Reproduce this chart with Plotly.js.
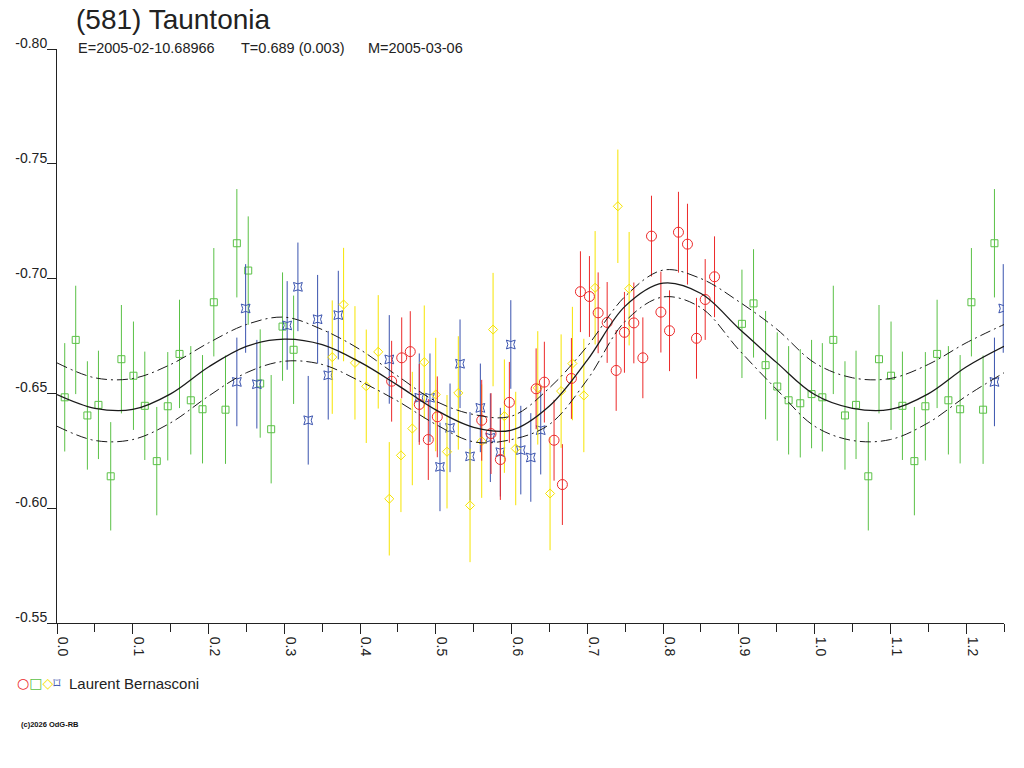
<!DOCTYPE html>
<html>
<head>
<meta charset="utf-8">
<script src="https://cdn.plot.ly/plotly-3.0.1.min.js"></script>
<style>
  body { margin: 0; background: #fff; }
  #plot { width: 1024px; height: 768px; }
</style>
</head>
<body>
<div id="plot"></div>
<script>
// lightcurve of (581) Tauntonia, phase vs reduced magnitude, one set per session

var redPhase = [0.4417, 0.4550, 0.4663, 0.4782, 0.4901, 0.5020, 0.5606, 0.5729, 0.5852, 0.5971,
  0.6324, 0.6433, 0.6561, 0.6671, 0.6790, 0.6909, 0.7028, 0.7143, 0.7262, 0.7381,
  0.7490, 0.7614, 0.7733, 0.7847, 0.7971, 0.8085, 0.8203, 0.8322, 0.8441, 0.8556, 0.8679];
var redMag = [-0.6553, -0.6655, -0.6682, -0.6452, -0.6299, -0.6398, -0.6383, -0.6325, -0.6212, -0.6461,
  -0.6520, -0.6549, -0.6296, -0.6103, -0.6565, -0.6943, -0.6922, -0.6851, -0.6809, -0.6600,
  -0.6766, -0.6807, -0.6655, -0.7185, -0.6854, -0.6773, -0.7202, -0.7150, -0.6740, -0.6909, -0.7008];
var redErr = 0.0176;

var greenPhase = [0.0102, 0.0247, 0.0401, 0.0547, 0.0709, 0.0850, 0.1009, 0.1159, 0.1317, 0.1462,
  0.1617, 0.1766, 0.1921, 0.2070, 0.2224, 0.2374, 0.2524, 0.2682, 0.2827, 0.2977, 0.3123,
  0.9041, 0.9194, 0.9353, 0.9507, 0.9657, 0.9811, 0.9960];
var greenMag = [-0.6483, -0.6733, -0.6404, -0.6450, -0.6139, -0.6649, -0.6577, -0.6446, -0.6205, -0.6444,
  -0.6672, -0.6470, -0.6431, -0.6897, -0.6429, -0.7154, -0.7035, -0.6543, -0.6344, -0.6791, -0.6690,
  -0.6803, -0.6892, -0.6623, -0.6530, -0.6470, -0.6457, -0.6497];
var greenErr = 0.0236;

var yellowPhase = [0.3633, 0.3783, 0.3933, 0.4082, 0.4240, 0.4386, 0.4540, 0.4690, 0.4848, 0.4999,
  0.5148, 0.5297, 0.5452, 0.5606, 0.5756, 0.5905, 0.6055, 0.6346, 0.6508, 0.6654,
  0.6803, 0.6954, 0.7103, 0.7403, 0.7552];
var yellowMag = [-0.6658, -0.6887, -0.6633, -0.6531, -0.6681, -0.6041, -0.6230, -0.6347, -0.6636, -0.6495,
  -0.6246, -0.6502, -0.6012, -0.6292, -0.6778, -0.6401, -0.6260, -0.6524, -0.6064, -0.6510,
  -0.6630, -0.6491, -0.6960, -0.7315, -0.6956];
var yellowErr = 0.0247;

var bluePhase = [0.2374, 0.2490, 0.2638, 0.3038, 0.3180, 0.3316, 0.3440, 0.3580, 0.3713, 0.4386,
  0.4782, 0.4923, 0.5055, 0.5188, 0.5320, 0.5452, 0.5588, 0.5720, 0.5852, 0.5990,
  0.6122, 0.6254, 0.6385];
var blueMag = [-0.6550, -0.6870, -0.6540, -0.6796, -0.6964, -0.6383, -0.6823, -0.6579, -0.6841, -0.6648,
  -0.6481, -0.6481, -0.6180, -0.6350, -0.6629, -0.6226, -0.6437, -0.6307, -0.6244, -0.6713,
  -0.6253, -0.6221, -0.6340];
var blueErr = 0.0193;

// fourier fit and its uncertainty band, read over one cycle
var fitPhase = [0.00, 0.05, 0.10, 0.15, 0.20, 0.25, 0.30, 0.35, 0.40, 0.45, 0.50,
  0.55, 0.60, 0.65, 0.70, 0.75, 0.80, 0.85, 0.90, 0.95, 1.00];
var fitMag = [-0.6495, -0.6435, -0.6430, -0.6498, -0.6615, -0.6705, -0.6736, -0.6712, -0.6636, -0.6535, -0.6428,
  -0.6352, -0.6340, -0.6445, -0.6645, -0.6880, -0.6980, -0.6935, -0.6783, -0.6634, -0.6495];
var fitUpper = [-0.6633, -0.6568, -0.6565, -0.6626, -0.6720, -0.6800, -0.6832, -0.6778, -0.6691, -0.6575, -0.6466,
  -0.6408, -0.6401, -0.6524, -0.6706, -0.6923, -0.7037, -0.7000, -0.6900, -0.6780, -0.6633];
var fitLower = [-0.6357, -0.6295, -0.6299, -0.6372, -0.6488, -0.6590, -0.6640, -0.6626, -0.6553, -0.6466, -0.6365,
  -0.6289, -0.6299, -0.6365, -0.6560, -0.6814, -0.6920, -0.6873, -0.6690, -0.6517, -0.6357];

var magTicks = [-0.80, -0.75, -0.70, -0.65, -0.60, -0.55];
var magTickText = ['-0.80', '-0.75', '-0.70', '-0.65', '-0.60', '-0.55'];

var maxPhase = 1.25;
var redColor = '#ec2a2a', greenColor = '#5ac146', yellowColor = '#f6e400', blueColor = '#3a53ae';

// phases are drawn once more past 1.0, up to the end of the axis
function extendCycle(phase, mag, skipZero) {
  var x = phase.slice(), y = mag.slice();
  for (var i = 0; i < phase.length; i++) {
    if (skipZero && phase[i] === 0) continue;
    if (phase[i] + 1 <= maxPhase + 1e-9) {
      x.push(phase[i] + 1);
      y.push(mag[i]);
    }
  }
  return {x: x, y: y};
}

function sessionTrace(phase, mag, err, color, symbol, size) {
  var d = extendCycle(phase, mag, false);
  return {
    x: d.x, y: d.y,
    type: 'scatter', mode: 'markers',
    marker: {symbol: symbol, size: size, color: color, line: {color: color, width: 1}},
    error_y: {type: 'constant', value: err, color: color, thickness: 1, width: 0},
    hoverinfo: 'skip'
  };
}

function fitTrace(values, dash, width) {
  var d = extendCycle(fitPhase, values, true);
  return {
    x: d.x, y: d.y,
    type: 'scatter', mode: 'lines',
    line: {color: '#1a1a1a', width: width, dash: dash, shape: 'spline', smoothing: 1},
    hoverinfo: 'skip'
  };
}

// layout helpers: pixel position -> paper fraction
function px(x) { return (x - 57) / (1024 - 57 - 20); }
function py(y) { return (623 - y) / (623 - 49); }

var plotdata = [
  sessionTrace(greenPhase, greenMag, greenErr, greenColor, 'square-open', 7),
  sessionTrace(bluePhase, blueMag, blueErr, blueColor, 'star-square-open', 8),
  sessionTrace(yellowPhase, yellowMag, yellowErr, yellowColor, 'diamond-open', 7),
  sessionTrace(redPhase, redMag, redErr, redColor, 'circle-open', 10),
  fitTrace(fitUpper, '11px,4px,2px,4px', 1),
  fitTrace(fitLower, '11px,4px,2px,4px', 1),
  fitTrace(fitMag, 'solid', 1.3)
];

var axisColor = '#222';
var layout = {
  width: 1024, height: 768,
  margin: {l: 57, r: 20, t: 49, b: 145},
  paper_bgcolor: '#fff', plot_bgcolor: '#fff',
  showlegend: false,
  hovermode: false,
  font: {family: 'Liberation Sans, Arial, sans-serif', size: 14, color: axisColor},
  title: {
    text: '(581) Tauntonia',
    font: {size: 28, color: axisColor},
    xref: 'container', x: 76 / 1024, xanchor: 'left',
    yref: 'container', y: 1 - 9 / 768, yanchor: 'top'
  },
  xaxis: {
    range: [0, maxPhase],
    tickmode: 'linear', tick0: 0, dtick: 0.1, tickformat: '.1f',
    ticks: 'outside', ticklen: 10, tickcolor: axisColor, tickwidth: 1,
    tickangle: 90, ticklabelshift: 6,
    showline: true, linecolor: axisColor, linewidth: 1,
    showgrid: false, zeroline: false,
    minor: {dtick: 0.05, ticks: 'outside', ticklen: 8, tickcolor: axisColor, showgrid: false}
  },
  yaxis: {
    range: [-0.55, -0.80],
    tickmode: 'array', tickvals: magTicks, ticktext: magTickText,
    ticks: 'outside', ticklen: 9, tickcolor: axisColor, tickwidth: 1,
    ticklabelshift: 6, ticklabelstandoff: -3,
    showline: true, linecolor: axisColor, linewidth: 1,
    showgrid: false, zeroline: false
  },
  annotations: [
    {text: 'E=2005-02-10.68966', xref: 'paper', yref: 'paper', x: px(76), y: py(48),
      xanchor: 'left', yanchor: 'middle', showarrow: false, font: {size: 14.5}},
    {text: 'T=0.689 (0.003)', xref: 'paper', yref: 'paper', x: px(239), y: py(48),
      xanchor: 'left', yanchor: 'middle', showarrow: false, font: {size: 14.5}},
    {text: 'M=2005-03-06', xref: 'paper', yref: 'paper', x: px(366), y: py(48),
      xanchor: 'left', yanchor: 'middle', showarrow: false, font: {size: 14.5}},
    {text: '<span style="color:' + redColor + '">○</span><span style="color:' + greenColor + '">□</span>' +
      '<span style="color:' + yellowColor + '">◇</span><span style="color:' + blueColor + '">⌑</span>',
      xref: 'paper', yref: 'paper', x: px(15), y: py(683),
      xanchor: 'left', yanchor: 'middle', showarrow: false,
      font: {family: 'DejaVu Sans', size: 14}},
    {text: 'Laurent Bernasconi', xref: 'paper', yref: 'paper', x: px(67), y: py(683),
      xanchor: 'left', yanchor: 'middle', showarrow: false, font: {size: 15}},
    {text: '(c)2026 OdG-RB', xref: 'paper', yref: 'paper', x: px(19), y: py(724),
      xanchor: 'left', yanchor: 'middle', showarrow: false,
      font: {size: 7.5, color: '#111', weight: 'bold'}}
  ]
};

Plotly.newPlot('plot', plotdata, layout, {staticPlot: true, displayModeBar: false});
</script>
</body>
</html>
